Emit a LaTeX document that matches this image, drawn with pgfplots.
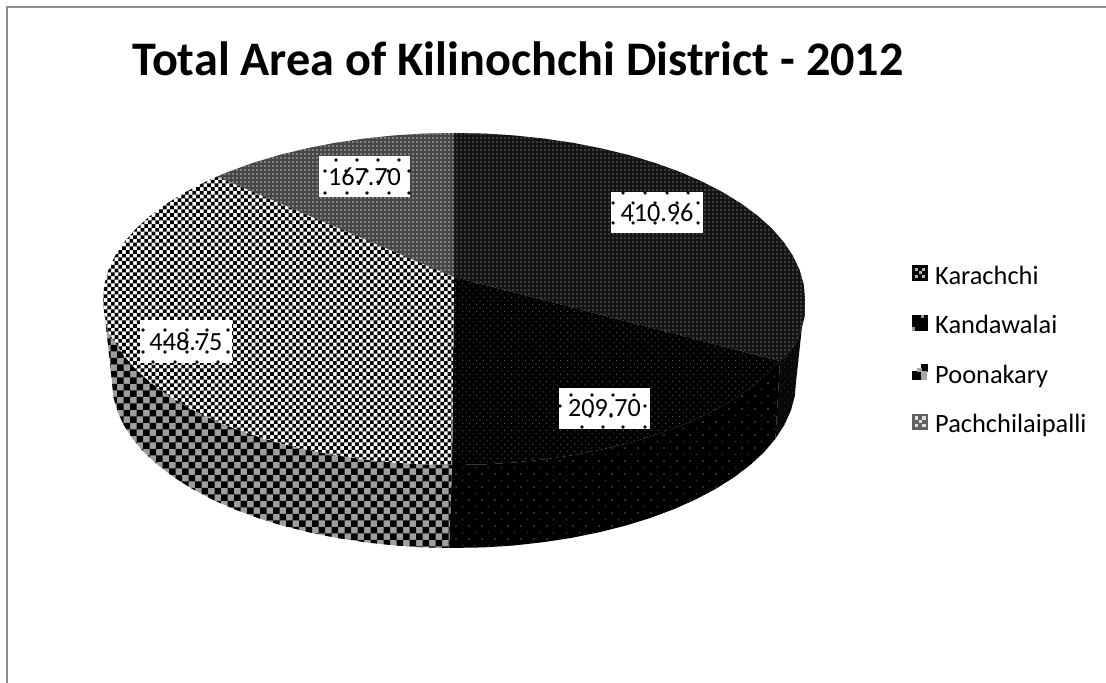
\documentclass[border=0pt]{standalone}
\usepackage{fontspec}
\setmainfont{Carlito}
\usepackage{pgfplots}
\pgfplotsset{compat=1.18}
\usetikzlibrary{patterns}
% checker, top face
\pgfdeclarepatternformonly{chktop}{\pgfqpoint{-0.1pt}{-0.1pt}}{\pgfqpoint{3.8pt}{3.8pt}}{\pgfqpoint{3.7pt}{3.7pt}}{%
 \pgfpathrectangle{\pgfqpoint{0pt}{0pt}}{\pgfqpoint{1.85pt}{1.85pt}}%
 \pgfpathrectangle{\pgfqpoint{1.85pt}{1.85pt}}{\pgfqpoint{1.85pt}{1.85pt}}\pgfusepath{fill}}
% checker, side
\pgfdeclarepatternformonly{chkside}{\pgfqpoint{-0.1pt}{-0.1pt}}{\pgfqpoint{6.6pt}{6.6pt}}{\pgfqpoint{6.5pt}{6.5pt}}{%
 \pgfpathrectangle{\pgfqpoint{0pt}{0pt}}{\pgfqpoint{3.25pt}{3.25pt}}%
 \pgfpathrectangle{\pgfqpoint{3.25pt}{3.25pt}}{\pgfqpoint{3.25pt}{3.25pt}}\pgfusepath{fill}}
% fine dots
\pgfdeclarepatternformonly{dotfine}{\pgfqpoint{-0.1pt}{-0.1pt}}{\pgfqpoint{2.1pt}{2.1pt}}{\pgfqpoint{2pt}{2pt}}{%
 \pgfpathrectangle{\pgfqpoint{0pt}{0pt}}{\pgfqpoint{0.8pt}{0.8pt}}\pgfusepath{fill}}
% staggered medium dots
\pgfdeclarepatternformonly{dotmed}{\pgfqpoint{-0.1pt}{-0.1pt}}{\pgfqpoint{3.6pt}{3.6pt}}{\pgfqpoint{3.5pt}{3.5pt}}{%
 \pgfpathrectangle{\pgfqpoint{0pt}{0pt}}{\pgfqpoint{0.6pt}{0.6pt}}%
 \pgfpathrectangle{\pgfqpoint{1.75pt}{1.75pt}}{\pgfqpoint{0.6pt}{0.6pt}}\pgfusepath{fill}}
% staggered large dots
\pgfdeclarepatternformonly{dotbig}{\pgfqpoint{-0.1pt}{-0.1pt}}{\pgfqpoint{6.6pt}{6.6pt}}{\pgfqpoint{6.5pt}{6.5pt}}{%
 \pgfpathrectangle{\pgfqpoint{0pt}{0pt}}{\pgfqpoint{0.9pt}{0.9pt}}%
 \pgfpathrectangle{\pgfqpoint{3.25pt}{3.25pt}}{\pgfqpoint{0.9pt}{0.9pt}}\pgfusepath{fill}}
\definecolor{frame}{HTML}{8C8C8C}
\begin{document}
\begin{tikzpicture}
\useasboundingbox (0,0) rectangle (553pt,341.5pt);
\begin{axis}[
  at={(0,0)}, anchor=south west,
  scale only axis, width=553pt, height=341.5pt,
  xmin=0, xmax=1106, ymin=0, ymax=683, y dir=reverse,
  hide axis,
  legend style={at={(axis cs:912,261.5)}, anchor=north west, draw=none, fill=none,
    font=\fontsize{13.2}{15}\selectfont, row sep=10.1pt, inner sep=0pt,
    legend cell align=left, /tikz/every odd column/.style={column sep=1.5pt}},
]
% frame
\addplot[forget plot, draw=frame, line width=1pt] coordinates {(7,683) (7,7.5) (1106,7.5)};

% ---- side walls
% Karachchi side
\addplot[forget plot, draw=none, fill=black!97, postaction={pattern=dotmed, pattern color=black!84}] coordinates {
 (805,299) (804.5,316) (801,331) (795,345) (785,357) (780,361)
 (775.4,438.8) (784.3,425) (790.8,410.8) (794.7,396.5) (796,382)} -- cycle;
% Kandawalai side
\addplot[forget plot, draw=none, fill=black, postaction={pattern=dotbig, pattern color=black!82}] coordinates {
 (780,361) (772.1,369.2) (758,382) (741.5,394.2) (722.9,405.7) (702.2,416.4) (679.6,426.2) (655.3,435)
 (629.5,442.8) (602.3,449.4) (574,455) (544.8,459.3) (514.9,462.5) (484.6,464.4) (452,465)
 (449,548) (483.8,547.4) (513.4,545.5) (542.5,542.3) (571,538) (598.5,532.4) (625,525.8) (650.2,518)
 (673.8,509.2) (695.8,499.4) (716,488.7) (734.2,477.2) (750.2,465) (764,452.2) (775.4,438.8)} -- cycle;
% Poonakary side
\addplot[forget plot, draw=none, fill=black!38, postaction={pattern=chkside, pattern color=black}] coordinates {
 (452,465) (423.4,464.4) (393.1,462.5) (363.2,459.3) (334,455) (305.7,449.4) (278.5,442.8) (252.7,435)
 (228.4,426.2) (205.8,416.4) (185.1,405.7) (166.5,394.2) (150,382) (135.9,369.2) (124.2,355.8)
 (115,342) (107.5,331) (104.3,313.5) (103,299)
 (112,382) (113.3,396.5) (117.2,410.8) (123.7,425) (132.6,438.8) (144,452.2) (157.8,465) (173.8,477.2)
 (192,488.7) (212.2,499.4) (234.2,509.2) (257.8,518) (283,525.8) (309.5,532.4) (337,538) (365.5,542.3)
 (394.6,545.5) (424.2,547.4) (449,548)} -- cycle;

% ---- top faces
% Karachchi 410.96
\addplot[forget plot, draw=none, fill=black!92, postaction={pattern=dotfine, pattern color=black!76}] coordinates {
 (454,277) (454,133) (484.6,133.6) (514.9,135.5) (544.8,138.7) (574,143) (602.3,148.6) (629.5,155.2)
 (655.3,163) (679.6,171.8) (702.2,181.6) (722.9,192.3) (741.5,203.8) (758,216) (772.1,228.8) (783.8,242.2)
 (793,256) (799.7,270.2) (803.7,284.5) (805,299) (804.5,316) (801,331) (795,345) (785,357) (780,361)} -- cycle;
% Kandawalai 209.70
\addplot[forget plot, draw=none, fill=black, postaction={pattern=dotmed, pattern color=black!68}] coordinates {
 (454,277) (780,361) (772.1,369.2) (758,382) (741.5,394.2) (722.9,405.7) (702.2,416.4) (679.6,426.2) (655.3,435)
 (629.5,442.8) (602.3,449.4) (574,455) (544.8,459.3) (514.9,462.5) (484.6,464.4) (452,465)} -- cycle;
% Poonakary 448.75
\addplot[forget plot, draw=none, fill=white, postaction={pattern=chktop, pattern color=black}] coordinates {
 (454,277) (452,465) (423.4,464.4) (393.1,462.5) (363.2,459.3) (334,455) (305.7,449.4) (278.5,442.8) (252.7,435)
 (228.4,426.2) (205.8,416.4) (185.1,405.7) (166.5,394.2) (150,382) (135.9,369.2) (124.2,355.8)
 (115,342) (107.5,331) (104.3,313.5) (103,299) (104.3,284.5) (108.3,270.2) (115,256) (124.2,242.2)
 (135.9,228.8) (150,216) (166.5,203.8) (185.1,192.3) (205.8,181.6) (217,176.6)} -- cycle;
% Pachchilaipalli 167.70
\addplot[forget plot, draw=none, fill=black!72, postaction={pattern=dotfine, pattern color=black!50}] coordinates {
 (454,277) (217,176.6) (228.4,171.8) (252.7,163) (278.5,155.2) (305.7,148.6) (334,143) (363.2,138.7)
 (393.1,135.5) (423.4,133.6) (454,133)} -- cycle;

% ---- data label boxes
\addplot[forget plot, draw=none, fill=white] coordinates {(611,192) (703,192) (703,233) (611,233)} -- cycle;
\addplot[forget plot, draw=none, fill=white] coordinates {(559,388) (650,388) (650,429) (559,429)} -- cycle;
\addplot[forget plot, draw=none, fill=white] coordinates {(140,320) (232,320) (232,363) (140,363)} -- cycle;
\addplot[forget plot, draw=none, fill=white] coordinates {(319,156) (410,156) (410,197) (319,197)} -- cycle;
% selection dots on the label boxes
\addplot[forget plot, only marks, mark=*, mark size=0.6pt, mark options={draw=none, fill=black!50}] coordinates {
 (623,193) (645,193) (667,193) (688,193)
 (613,203) (633,203) (655,203) (677,203) (698,203)
 (613,223) (633,223) (655,223) (677,223) (698,223)
 (571,395) (592,395) (613,395) (634,395)
 (560,406) (645,406) (590,416) (611,416)
 (582,427) (603,427) (623,427) (645,427)
 (143,330) (165,330) (187,330) (207,330) (228,330)
 (165,342) (187,342) (197,342)
 (143,352) (165,352) (187,352) (207,352) (228,352)
 (153,362) (175,362) (197,362) (218,362)
 (336,160) (357,160) (378,160) (399,160)
 (325,171) (346,171) (367,171) (388,171) (409,171)
 (358,182) (378,182)
 (325,193) (347,193) (367,193) (389,193) (409,193)};

% ---- legend
\addlegendimage{legend image code/.code={\begin{scope}[yshift=-1.5pt]
  \fill[black] (0pt,-0.5pt) rectangle (7.5pt,7pt);
  \fill[white!70!black] (1.5pt,1pt) rectangle (2.5pt,2pt) (5pt,1pt) rectangle (6pt,2pt)
    (1.5pt,4.7pt) rectangle (2.5pt,5.7pt) (5pt,4.7pt) rectangle (6pt,5.7pt) (3.3pt,2.9pt) rectangle (4.3pt,3.9pt);\end{scope}}}
\addlegendentry{Karachchi}
\addlegendimage{legend image code/.code={\begin{scope}[yshift=-1.5pt]
  \fill[black] (0pt,-0.5pt) rectangle (7.5pt,7pt);
  \fill[white!60!black] (4.5pt,6pt) rectangle (5.5pt,7pt) (0pt,-0.5pt) rectangle (0.6pt,1pt);\end{scope}}}
\addlegendentry{Kandawalai}
\addlegendimage{legend image code/.code={\begin{scope}[yshift=-1.5pt]
  \fill[black] (0pt,-0.5pt) rectangle (4.2pt,3.5pt);
  \fill[black] (4.4pt,3.5pt) rectangle (7.5pt,7.2pt);
  \fill[black!35] (4.2pt,-0.5pt) rectangle (7pt,3.5pt);
  \fill[black!35] (2.5pt,3.5pt) rectangle (4.4pt,5pt);\end{scope}}}
\addlegendentry{Poonakary}
\addlegendimage{legend image code/.code={\begin{scope}[yshift=-1.5pt]
  \fill[black!62] (0pt,-0.5pt) rectangle (7.5pt,7pt);
  \fill[black!12] (1.2pt,0.8pt) rectangle (2.4pt,2pt) (5pt,0.8pt) rectangle (6.2pt,2pt)
    (1.2pt,4.5pt) rectangle (2.4pt,5.7pt) (5pt,4.5pt) rectangle (6.2pt,5.7pt) (3.1pt,2.7pt) rectangle (4.3pt,3.9pt);\end{scope}}}
\addlegendentry{Pachchilaipalli}

% ---- text
\node[font=\fontsize{24.1}{28}\selectfont\bfseries] at (axis cs:518,59) {Total Area of Kilinochchi District - 2012};
\node[font=\fontsize{13.1}{15}\selectfont, inner sep=0pt] at (axis cs:657,212.5) {410.96};
\node[font=\fontsize{13.1}{15}\selectfont, inner sep=0pt] at (axis cs:604.5,408.5) {209.70};
\node[font=\fontsize{13.1}{15}\selectfont, inner sep=0pt] at (axis cs:186,341.5) {448.75};
\node[font=\fontsize{13.1}{15}\selectfont, inner sep=0pt] at (axis cs:364.5,176.5) {167.70};
\end{axis}
\end{tikzpicture}
\end{document}
